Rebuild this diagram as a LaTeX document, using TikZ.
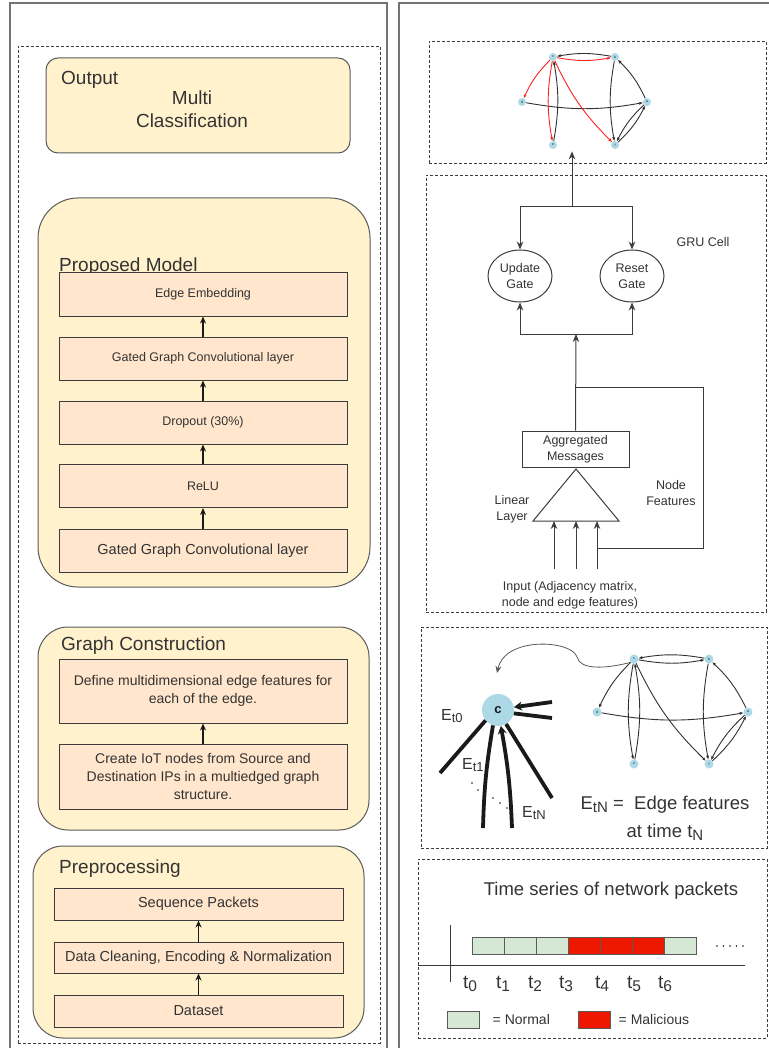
\documentclass[tikz,border=0pt]{standalone}
\usepackage{fontspec}
\setmainfont{Liberation Sans}
\usepackage{tikz}
\usetikzlibrary{arrows.meta,positioning,shapes,calc}
\definecolor{ink}{HTML}{1A1A1A}
\definecolor{inktext}{HTML}{333333}
\definecolor{inkgray}{HTML}{5A5A5A}
\definecolor{cream}{HTML}{FFF2CC}
\definecolor{peach}{HTML}{FFE6CC}
\definecolor{nodeblue}{HTML}{ADD8E6}
\definecolor{normalgreen}{HTML}{D5E8D4}
\definecolor{malred}{HTML}{EE1800}
\definecolor{edgered}{HTML}{FF2020}
\newcommand{\fsz}[2]{\fontsize{#1}{#2}\selectfont}
\newcommand{\lowsub}[2]{\raisebox{-0.35ex}{\fsz{#1}{#1}#2}}
\tikzset{
  panelframe/.style={draw=black!55,line width=1.4pt},
  dashbox/.style={draw=ink!85,line width=0.8pt,dash pattern=on 3pt off 2pt,
                  inner sep=0pt},
  stagebox/.style={draw=inkgray,fill=cream,line width=1pt,inner sep=0pt},
  stagetitle/.style={anchor=base west,inner sep=0pt,text=inktext,
                     font=\fsz{19}{23}},
  layerbox/.style={draw=ink!85,fill=peach,line width=1pt,align=center,
                   minimum width=288pt,minimum height=43pt,inner sep=2pt,
                   text=inktext,font=\fsz{12.5}{15}},
  uparr/.style={-{Stealth[length=7pt,width=6pt]},line width=1.3pt,draw=ink},
  flowarr/.style={-{Stealth[length=8pt,width=6.5pt]},line width=1pt,
                  draw=ink!85},
  flowline/.style={line width=1pt,draw=ink!85},
  thinarr/.style={-{Stealth[length=7pt,width=6pt]},line width=0.8pt,
                  draw=inkgray},
  gate/.style={ellipse,draw=ink!85,line width=1pt,minimum width=64pt,
               minimum height=52pt,inner sep=0pt,align=center,text=inktext,
               font=\fsz{12.5}{16}},
  msgbox/.style={draw=ink!85,line width=1pt,minimum width=107pt,
                 minimum height=36pt,inner sep=0pt,align=center,
                 text=inktext,font=\fsz{12.5}{16}},
  note/.style={align=center,inner sep=0pt,text=inktext,font=\fsz{12.5}{16}},
  bignote/.style={align=center,inner sep=0pt,text=inktext,
                  font=\fsz{18.5}{28}},
  gnode/.style={circle,fill=nodeblue,minimum size=8pt,inner sep=0pt,
                text=ink,font=\fsz{3.5}{4}},
  bignode/.style={circle,fill=nodeblue,minimum size=32pt,inner sep=0pt,
                  text=ink,font=\bfseries\fsz{13}{13}},
  gedge/.style={-{Stealth[length=4pt,width=3pt]},line width=0.9pt,
                draw=ink!90,bend right=10},
  redge/.style={gedge,draw=edgered},
  thickedge/.style={line width=3.8pt,draw=ink},
  pkt/.style={draw=inkgray,line width=1pt,minimum width=32pt,
              minimum height=17pt,inner sep=0pt},
  axisline/.style={line width=1pt,draw=ink!85}
}
\begin{document}
\begin{tikzpicture}[x=1pt,y=-1pt]
  \useasboundingbox (0,0) rectangle (768,1048);
  % frames
  \draw[panelframe] (10,3) rectangle (387,1056);
  \draw[panelframe] (399,3) rectangle (776,1056);
  \node[dashbox,minimum width=362pt,minimum height=997pt] (leftpanel) at (199,544.5) {};

  % output
  \node[stagebox,rounded corners=12pt,minimum width=304pt,minimum height=95pt] (output) at (198,105.5) {};
  \node[stagetitle] (outtitle) at (61,85) {Output};
  \node[note,font=\fsz{19}{23}] (multi) at (192,109.5) {Multi\\Classification};

  % proposed model
  \node[stagebox,rounded corners=40pt,minimum width=332pt,minimum height=389pt] (model) at (204,392.5) {};
  \node[stagetitle] (modeltitle) at (59,272) {Proposed Model};
  \node[layerbox] (embed) at (203,294.5) {Edge Embedding};
  \node[layerbox] (ggcl2) at (203,358.5) {Gated Graph Convolutional layer};
  \node[layerbox] (drop) at (203,422.5) {Dropout (30\%)};
  \node[layerbox] (relu) at (203,486) {ReLU};
  \node[layerbox,font=\fsz{14.5}{17}] (ggcl1) at (203,550.5) {Gated Graph Convolutional layer};
  \draw[uparr] (ggcl1) -- (relu);
  \draw[uparr] (relu) -- (drop);
  \draw[uparr] (drop) -- (ggcl2);
  \draw[uparr] (ggcl2) -- (embed);

  % graph construction
  \node[stagebox,rounded corners=30pt,minimum width=331pt,minimum height=203pt] (graphcon) at (203.5,728.5) {};
  \node[stagetitle] (gctitle) at (61,650) {Graph Construction};
  \node[layerbox,minimum height=64pt,font=\fsz{14}{18}] (edgefeat) at (203,691)
    {Define multidimensional edge features for\\each of the edge.};
  \node[layerbox,minimum height=65pt,font=\fsz{14}{18}] (iotnodes) at (203,776.5)
    {Create IoT nodes from Source and\\Destination IPs in a multiedged graph\\structure.};
  \draw[uparr] (iotnodes) -- (edgefeat);

  % preprocessing
  \node[stagebox,rounded corners=30pt,minimum width=331pt,minimum height=192pt] (prep) at (198.5,942) {};
  \node[stagetitle] (preptitle) at (59,873) {Preprocessing};
  \node[layerbox,minimum width=289pt,minimum height=32pt,font=\fsz{14.5}{17}] (seqpk) at (198.5,904) {Sequence Packets};
  \node[layerbox,minimum width=289pt,minimum height=31pt,font=\fsz{14.5}{17}] (clean) at (198.5,957.5) {Data Cleaning, Encoding \& Normalization};
  \node[layerbox,minimum width=289pt,minimum height=32pt,font=\fsz{14.5}{17}] (dataset) at (198.5,1011) {Dataset};
  \draw[uparr] (dataset) -- (clean);
  \draw[uparr] (clean) -- (seqpk);

  % classified graph
  \node[dashbox,minimum width=337pt,minimum height=122pt] (tgraph) at (597.5,102) {};
  \node[gnode] (tc) at (553,57) {c};
  \node[gnode] (tb) at (615,57) {b};
  \node[gnode] (td) at (522,102) {d};
  \node[gnode] (ta) at (647,102) {a};
  \node[gnode] (te) at (553,145) {e};
  \node[gnode] (tf) at (615,145) {f};
  \draw[gedge] (tb) to (tc);
  \draw[redge] (tc) to (tb);
  \draw[redge] (tc) to (td);
  \draw[gedge] (td) to (ta);
  \draw[redge] (tc) to (te);
  \draw[gedge] (te) to (tc);
  \draw[redge] (tc) to (tf);
  \draw[gedge] (ta) to (tb);
  \draw[gedge] (tb) to (tf);
  \draw[gedge] (ta) to (tf);
  \draw[gedge] (tf) to (ta);

  % GRU cell
  \node[dashbox,minimum width=340pt,minimum height=437pt] (grucell) at (596,393.5) {};
  \node[note] (grulabel) at (703,242) {GRU Cell};
  \node[gate] (upd) at (520,276) {Update\\Gate};
  \node[gate] (rst) at (632,276) {Reset\\Gate};
  \coordinate (split) at (572,207);
  \draw[flowarr] (split) -- ($(split |- tgraph.south)+(0,-12)$);
  \draw[flowarr] (split) -| (upd.north);
  \draw[flowarr] (split) -| (rst.north);
  \node[msgbox] (agg) at (575.5,449) {Aggregated\\Messages};
  \coordinate (join) at (576,334);
  \draw[flowarr] (join) -| (upd.south);
  \draw[flowarr] (join) -| (rst.south);
  \draw[flowarr] (agg.north) -- (join);
  % linear layer
  \coordinate (apex) at (576,469);
  \coordinate (tribase) at (576,521);
  \draw[flowline] (apex) -- (619,521) -- (533,521) -- cycle;
  \node[note] (linlabel) at (512,509) {Linear\\Layer};
  \node[note] (nflabel) at (671,493) {Node\\Features};
  \coordinate (in1) at (554,569);
  \coordinate (in2) at (576,569);
  \coordinate (in3) at (597,569);
  \draw[flowarr] (in1) -- (in1 |- tribase);
  \draw[flowarr] (in2) -- (tribase);
  \draw[flowarr] (in3) -- (in3 |- tribase);
  \coordinate (fb) at ($(agg.north)+(0,-43)$);
  \coordinate (fbc) at (703,548);
  \draw[flowline] (fb) -| (fbc) -- (fbc -| in3);
  \node[note] (inlabel) at (570,595) {Input (Adjacency matrix,\\node and edge features)};

  % edge features over time
  \node[dashbox,minimum width=346pt,minimum height=221pt] (epanel) at (594,737.5) {};
  \node[gnode,minimum size=9pt] (mc) at (634,659) {c};
  \node[gnode,minimum size=9pt] (mb) at (709,659) {b};
  \node[gnode,minimum size=9pt] (md) at (597,712) {d};
  \node[gnode,minimum size=9pt] (ma) at (748,712) {a};
  \node[gnode,minimum size=9pt] (me) at (634,764) {e};
  \node[gnode,minimum size=9pt] (mf) at (709,764) {f};
  \draw[gedge] (mb) to (mc);
  \draw[gedge] (mc) to (mb);
  \draw[gedge] (mc) to (md);
  \draw[gedge] (md) to (ma);
  \draw[gedge] (mc) to (me);
  \draw[gedge] (me) to (mc);
  \draw[gedge] (mc) to (mf);
  \draw[gedge] (ma) to (mb);
  \draw[gedge] (mb) to (mf);
  \draw[gedge] (ma) to (mf);
  \draw[gedge] (mf) to (ma);
  \node[bignode] (bc) at (498,710) {c};
  \coordinate (cin) at (497,673);
  \draw[thinarr] (mc.225) .. controls (605,669) and (580,670) .. (577,657)
    .. controls (572,640) and (505,636) .. (cin);
  \coordinate (th1) at (552,702);
  \coordinate (th2) at (552,718);
  \coordinate (th3) at (440,773);
  \coordinate (th4) at (483,828);
  \coordinate (th5) at (512,828);
  \coordinate (th6) at (552,798);
  \draw[thickedge,-{Stealth[length=8pt,width=9pt]}] (th1) -- (bc.10);
  \draw[thickedge] (th2) -- (bc.-12);
  \draw[thickedge] (th3) -- (bc.-140);
  \draw[thickedge] (th4) to[bend left=4] (bc.-108);
  \draw[thickedge,-{Stealth[length=8pt,width=9pt]}] (th5) to[bend right=4] (bc.-80);
  \draw[thickedge] (th6) -- (bc.-60);
  \node[bignote,anchor=base west,font=\fsz{16}{16}] (et0) at (441,720) {E\lowsub{13}{t0}};
  \node[bignote,anchor=base west,font=\fsz{16}{16}] (et1) at (462,769) {E\lowsub{13}{t1}};
  \node[bignote,anchor=base west,font=\fsz{16}{16}] (etn) at (522,817) {E\lowsub{13}{tN}};
  \foreach \px/\py in {472/783,478/790,493/798,500/803,507/808}
    \fill[ink] (\px,\py) circle (0.9pt);
  \node[bignote] (efeat) at (665,818) {E\lowsub{15}{tN} =\ \ Edge features\\at time t\lowsub{15}{N}};

  % time series
  \node[dashbox,minimum width=349pt,minimum height=179pt] (tspanel) at (592.5,948.5) {};
  \node[bignote,anchor=base] (tstitle) at (611,895) {Time series of network packets};
  \draw[axisline] (450,925) -- (450,982);
  \draw[axisline] (418,965) -- (745,965);
  \foreach \i/\fc in {0/normalgreen,1/normalgreen,2/normalgreen,3/malred,4/malred,5/malred,6/normalgreen}
    \node[pkt,fill=\fc] (pk\i) at (488+32.1*\i,945.5) {};
  \foreach \i in {0,...,4}
    \fill[ink] (717+6.5*\i,946) circle (0.9pt);
  \foreach \i/\tx in {0/470,1/503,2/535,3/566,4/602,5/634,6/665}
    \node[bignote,anchor=base,font=\fsz{19}{19}] (t\i) at (\tx,988) {t\lowsub{15.5}{\i}};
  \node[pkt,fill=normalgreen] (lgnormal) at (463,1019.5) {};
  \node[note,font=\fsz{14}{16},right=13pt of lgnormal] (lgnormtxt) {= Normal};
  \node[pkt,fill=malred] (lgmal) at (594,1019.5) {};
  \node[note,font=\fsz{14}{16},right=8pt of lgmal] (lgmaltxt) {= Malicious};
\end{tikzpicture}
\end{document}
